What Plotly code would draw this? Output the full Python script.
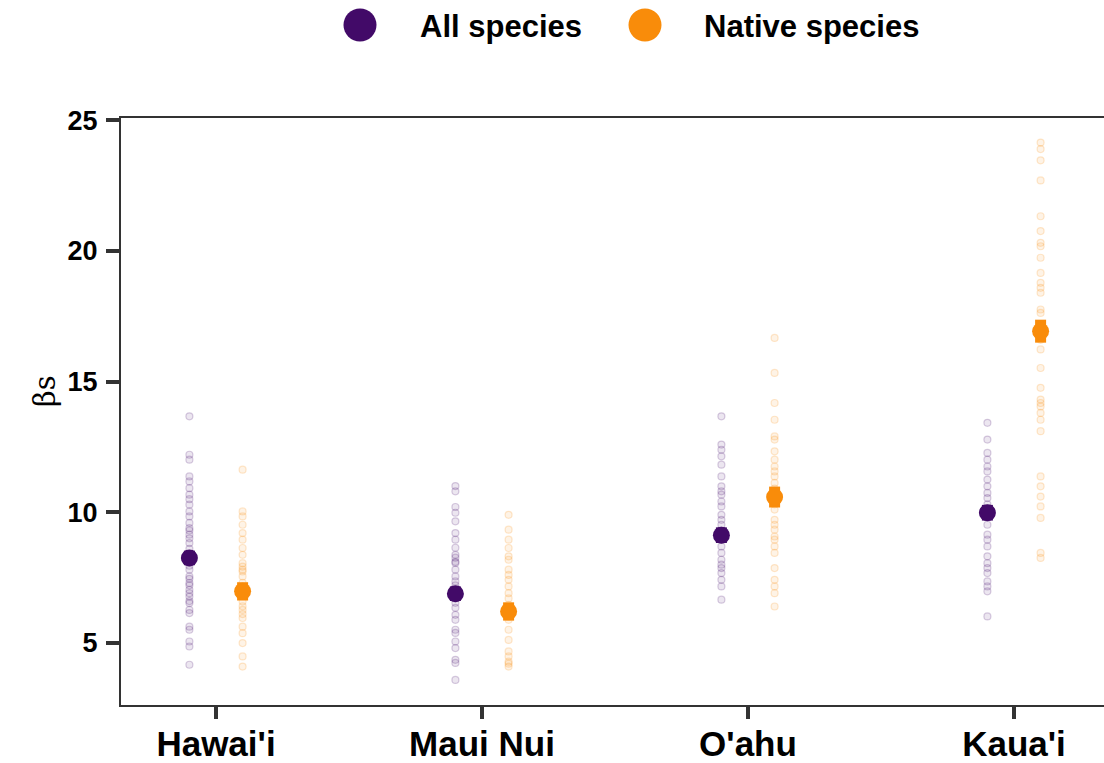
import plotly.graph_objects as go

islands = ["Hawai'i", "Maui Nui", "O'ahu", "Kaua'i"]
groups = ["All species", "Native species"]
colors = {"All species": "#420A68", "Native species": "#F98C0A"}
faint_fill = {"All species": "rgba(66,10,104,0.1)", "Native species": "rgba(249,140,10,0.1)"}
faint_line = {"All species": "rgba(66,10,104,0.2)", "Native species": "rgba(249,140,10,0.2)"}

# posterior draws
hawaii_all = [13.67, 12.2, 12.01, 11.37, 11.18, 10.92, 10.67, 10.5, 10.29, 10.03, 9.84, 9.59,
              9.39, 9.3, 9.14, 9.0, 8.82, 8.6, 8.4, 8.1, 7.95, 7.8, 7.54, 7.45, 7.29, 7.2, 7.03,
              6.9, 6.77, 6.6, 6.52, 6.26, 6.14, 5.62, 5.5, 5.05, 4.86, 4.16]
hawaii_nat = [11.63, 10.03, 9.84, 9.52, 9.2, 8.95, 8.63, 8.37, 8.05, 7.92, 7.8, 7.73, 7.54,
              7.3, 7.1, 6.8, 6.58, 6.4, 6.26, 6.1, 5.95, 5.62, 5.37, 4.99, 4.48, 4.09]
maui_all = [11.0, 10.8, 10.2, 9.98, 9.65, 9.2, 8.95, 8.64, 8.37, 8.26, 8.1, 8.06, 7.8, 7.54,
            7.35, 7.2, 7.0, 6.7, 6.53, 6.34, 6.07, 5.88, 5.5, 5.38, 5.05, 4.8, 4.35, 4.23, 3.58]
maui_nat = [9.9, 9.33, 8.95, 8.63, 8.31, 8.18, 7.8, 7.6, 7.41, 7.16, 6.9, 6.7, 6.45, 6.0,
            5.88, 5.5, 5.11, 4.67, 4.48, 4.28, 4.2, 4.09]
oahu_all = [13.67, 12.59, 12.39, 12.14, 11.82, 11.37, 10.99, 10.8, 10.67, 10.41, 10.22, 9.9,
            9.71, 9.52, 9.3, 8.95, 8.69, 8.44, 8.18, 7.99, 7.86, 7.67, 7.41, 7.16, 6.65]
oahu_nat = [16.67, 15.33, 14.18, 13.54, 12.9, 12.78, 12.33, 12.01, 11.75, 11.56, 11.37, 11.12,
            10.9, 10.3, 10.1, 9.71, 9.52, 9.33, 9.07, 8.95, 8.69, 8.44, 7.86, 7.41, 7.16, 6.9, 6.39]
kauai_all = [13.42, 12.78, 12.27, 12.01, 11.75, 11.56, 11.25, 10.99, 10.74, 10.54, 10.3, 10.1,
             9.8, 9.52, 9.14, 8.95, 8.69, 8.31, 8.05, 7.86, 7.67, 7.35, 7.16, 6.97, 6.01]
kauai_nat = [24.15, 23.9, 23.47, 22.7, 21.33, 20.76, 20.31, 20.18, 19.74, 19.16, 18.78, 18.59,
             18.4, 17.76, 17.63, 17.2, 16.6, 16.23, 15.52, 14.76, 14.31, 14.18, 14.05, 13.8,
             13.54, 13.1, 11.37, 10.99, 10.6, 10.22, 9.78, 8.44, 8.25]

draws = {
    "All species": [hawaii_all, maui_all, oahu_all, kauai_all],
    "Native species": [hawaii_nat, maui_nat, oahu_nat, kauai_nat],
}
means = {
    "All species": [8.25, 6.88, 9.12, 9.98],
    "Native species": [6.97, 6.2, 10.58, 16.93],
}
errs = {
    "All species": [0.28, 0.28, 0.3, 0.3],
    "Native species": [0.35, 0.35, 0.4, 0.44],
}
dodge = {"All species": -0.1, "Native species": 0.1}

fig = go.Figure()

for g in groups:
    xs, ys = [], []
    for i, vals in enumerate(draws[g]):
        xs += [i + 1 + dodge[g]] * len(vals)
        ys += vals
    fig.add_trace(go.Scatter(
        x=xs, y=ys, mode="markers", showlegend=False, hoverinfo="skip",
        marker=dict(size=7, color=faint_fill[g], line=dict(color=faint_line[g], width=1.2)),
    ))

for g in groups:
    fig.add_trace(go.Scatter(
        x=[i + 1 + dodge[g] for i in range(len(islands))], y=means[g],
        mode="markers", name=g, showlegend=False,
        marker=dict(size=17, color=colors[g], line=dict(width=0)),
        error_y=dict(type="data", array=errs[g], color=colors[g], thickness=11, width=0),
    ))

L, T, B = 121, 118, 58
W, H = 1104, 763
pw, ph = W - L, H - T - B

def px(xp):
    return (xp - L) / pw

def py(yp):
    return (H - B - yp) / ph

# manual legend
leg = [("All species", 360, 418), ("Native species", 645, 702)]
for g, cx, tx in leg:
    fig.add_shape(type="circle", xref="paper", yref="paper",
                  xsizemode="pixel", ysizemode="pixel",
                  xanchor=px(cx), yanchor=py(25),
                  x0=-16.5, x1=16.5, y0=-16.5, y1=16.5,
                  fillcolor=colors[g], line=dict(width=0))
    fig.add_annotation(text=g, xref="paper", yref="paper", x=px(tx), y=py(26),
                       xanchor="left", yanchor="middle", showarrow=False,
                       font=dict(family="Liberation Sans", size=31, color="black", weight="bold"))

# y-axis title
fig.add_annotation(text="βs", xref="paper", yref="paper", x=px(45), y=py(391),
                   xanchor="center", yanchor="middle", showarrow=False, textangle=-90,
                   font=dict(family="DejaVu Serif", size=29, color="black"))

fig.update_layout(
    width=W, height=H,
    template="none",
    margin=dict(l=L, r=0, t=T, b=B, autoexpand=False),
    paper_bgcolor="white", plot_bgcolor="white",
    showlegend=False,
    xaxis=dict(
        range=[1 - 95 / 266, 1 + (W - 216) / 266],
        tickmode="array", tickvals=[1, 2, 3, 4], ticktext=islands,
        showgrid=False, zeroline=False, automargin=False,
        showline=True, linecolor="#333333", linewidth=2, mirror=True,
        ticks="outside", ticklen=12, tickwidth=3.5, tickcolor="#333333",
        tickfont=dict(family="Liberation Sans", size=35, color="black", weight="bold"),
        ticklabelstandoff=-5,
    ),
    yaxis=dict(
        range=[2.62, 25.09],
        tickmode="array", tickvals=[5, 10, 15, 20, 25],
        showgrid=False, zeroline=False, automargin=False,
        showline=True, linecolor="#333333", linewidth=2, mirror=False,
        ticks="outside", ticklen=13, tickwidth=3.5, tickcolor="#333333",
        tickfont=dict(family="Liberation Sans", size=27, color="black", weight="bold"),
        ticklabelstandoff=3,
    ),
)

fig.write_html("out.html")
